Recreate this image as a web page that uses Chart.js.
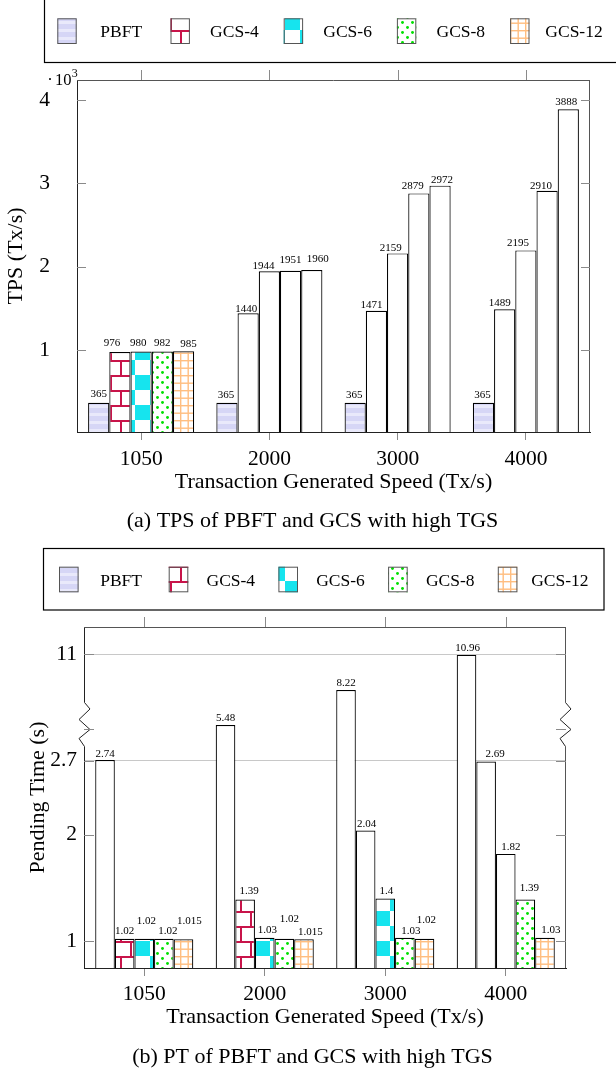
<!DOCTYPE html>
<html>
<head>
<meta charset="utf-8">
<script src="https://cdn.jsdelivr.net/npm/chart.js@4.4.1/dist/chart.umd.min.js"></script>
<style>
    html, body { margin: 0; padding: 0; background: #fff; }
    canvas { display: block; }
</style>
</head>
<body>
<canvas id="tpsChart" width="616" height="536"></canvas>
<canvas id="ptChart" width="616" height="536"></canvas>
<script>
// Data
const speeds = ['1050', '2000', '3000', '4000'];
const seriesNames = ['PBFT', 'GCS-4', 'GCS-6', 'GCS-8', 'GCS-12'];

const tpsPBFT  = [365, 365, 365, 365];
const tpsGCS4  = [976, 1440, 1471, 1489];
const tpsGCS6  = [980, 1944, 2159, 2195];
const tpsGCS8  = [982, 1951, 2879, 2910];
const tpsGCS12 = [985, 1960, 2972, 3888];
const tpsTicks = [1000, 2000, 3000, 4000];

const ptPBFT  = [2.74, 5.48, 8.22, 10.96];
const ptGCS4  = [1.02, 1.39, 2.04, 2.69];
const ptGCS6  = [1.02, 1.03, 1.4, 1.82];
const ptGCS8  = [1.02, 1.02, 1.03, 1.39];
const ptGCS12 = [1.015, 1.015, 1.02, 1.03];
const ptTicks = [1, 2, 2.7, 11];
const ptGridAt = [2.7, 11];

// label nudges (px), per series and group
const tpsLabelDx   = [[0, -1, -1, -1], [-8, -2, -5, -5], [-3, -6, -7, -8], [0, 0, -6, -6], [5, 6, 2, -2]];
const tpsLabelLift = [[2, 1, 1.5, 1.5], [2, -2, -1, 0], [2, -1.5, -1, 0.5], [2, 4.5, 1, -2], [1, 4, -0.5, 1]];
const ptLabelDx    = [[0, 0, 0, 1], [0, 4, 1, 9], [2, 2.5, 1, 5], [4, 5, 6, 4], [6, 6.5, 2, 6]];
const ptLabelLift  = [[0, 0, 0, 0], [1, 2, 0.5, 1.5], [11, 1, 1, 0], [1, 13.5, 0, 5], [12, 1, 12, 1.5]];

const serif = "'Liberation Serif', 'Times New Roman', serif";
Chart.defaults.font.family = serif;
Chart.defaults.color = '#000';

// Fill patterns
function makePattern(w, h, draw) {
    const c = document.createElement('canvas');
    c.width = w; c.height = h;
    const g = c.getContext('2d');
    g.fillStyle = '#fff';
    g.fillRect(0, 0, w, h);
    draw(g, w, h);
    return g.createPattern(c, 'repeat');
}

const fills = [
    makePattern(4, 8, (g, w) => {
        g.fillStyle = '#d6d6f6'; g.fillRect(0, 0, w, 8);
        g.fillStyle = '#e9e9fb'; g.fillRect(0, 5, w, 3);
    }),
    makePattern(20, 30, (g) => {
        g.fillStyle = '#c8144a';
        g.fillRect(0, 0, 20, 2); g.fillRect(0, 15, 20, 2);
        g.fillRect(0, 0, 2, 15); g.fillRect(10, 15, 2, 15);
    }),
    makePattern(30, 30, (g) => {
        g.fillStyle = '#16e4ee';
        g.fillRect(0, 0, 15, 15); g.fillRect(15, 15, 15, 15);
    }),
    makePattern(10, 10, (g) => {
        g.fillStyle = '#00e000';
        [[2.5, 2.5], [7.5, 7.5]].forEach(([x, y]) => { g.beginPath(); g.arc(x, y, 1.45, 0, Math.PI * 2); g.fill(); });
    }),
    makePattern(15, 15, (g) => {
        g.fillStyle = '#ffbe80';
        g.fillRect(0, 0, 1.4, 15); g.fillRect(7.5, 0, 1.4, 15);
        g.fillRect(0, 0, 15, 1.4); g.fillRect(0, 7.5, 15, 1.4);
    }),
];

function datasets(series, whiteAbove, base) {
    return series.map((data, i) => ({
        label: seriesNames[i],
        data: data,
        base: base,
        backgroundColor: c => c.raw > whiteAbove ? '#ffffff' : fills[i],
        borderColor: '#000',
        borderWidth: 1.2,
    }));
}

// Drawing helpers
function text(ctx, str, x, y, size, align, rot) {
    ctx.save();
    ctx.font = size + 'px ' + serif;
    ctx.fillStyle = '#000';
    ctx.textAlign = align || 'center';
    ctx.textBaseline = 'alphabetic';
    ctx.translate(x, y);
    if (rot) ctx.rotate(rot);
    ctx.fillText(str, 0, 0);
    ctx.restore();
}

function line(ctx, x1, y1, x2, y2, color, width) {
    ctx.save();
    ctx.strokeStyle = color; ctx.lineWidth = width || 1;
    ctx.beginPath(); ctx.moveTo(x1, y1); ctx.lineTo(x2, y2); ctx.stroke();
    ctx.restore();
}

function drawValueLabels(chart, dx, lift) {
    const ctx = chart.ctx;
    ctx.save();
    ctx.font = '11px ' + serif;
    ctx.fillStyle = '#000';
    ctx.textAlign = 'center';
    ctx.textBaseline = 'alphabetic';
    chart.data.datasets.forEach((ds, i) => {
        chart.getDatasetMeta(i).data.forEach((bar, j) => {
            ctx.fillText(String(ds.data[j]), bar.x + dx[i][j], bar.y - 3.5 - lift[i][j]);
        });
    });
    ctx.restore();
}

function drawFrame(chart, tickLen) {
    const { ctx, chartArea: a, scales: { x, y } } = chart;
    line(ctx, a.left, a.top + 0.5, a.right, a.top + 0.5, '#555');
    line(ctx, a.right - 0.5, a.top, a.right - 0.5, a.bottom, '#555');
    speeds.forEach((s, i) => {
        const px = Math.round(x.getPixelForValue(i)) + 0.5;
        line(ctx, px, a.top - 10, px, a.top, '#8a8a8a');
    });
    y.ticks.forEach(t => {
        const py = Math.round(y.getPixelForValue(t.value)) + 0.5;
        line(ctx, a.left, py, a.left + tickLen, py, '#8a8a8a');
        line(ctx, a.right - tickLen, py, a.right, py, '#8a8a8a');
    });
}

function drawLegend(ctx, L) {
    ctx.save();
    ctx.strokeStyle = '#000'; ctx.lineWidth = 1.2;
    ctx.strokeRect(L.left, L.top, L.right - L.left, L.bottom - L.top);
    ctx.font = '17.5px ' + serif;
    ctx.textAlign = 'center';
    ctx.textBaseline = 'alphabetic';
    seriesNames.forEach((name, i) => {
        const sx = L.x0 + i * L.step;
        ctx.fillStyle = fills[i];
        ctx.fillRect(sx, L.swTop, L.swW, L.swH);
        ctx.strokeStyle = '#555'; ctx.lineWidth = 1;
        ctx.strokeRect(sx + 0.5, L.swTop + 0.5, L.swW - 1, L.swH - 1);
        ctx.fillStyle = '#000';
        ctx.fillText(name, sx + L.swW + L.textOff, L.baseline);
    });
    ctx.restore();
}

// Broken y axis for the pending time chart: 2.7..11 squeezed into one unit
const breakLow = 2.7, breakHigh = 11;
const squash = v => v <= breakLow ? v : breakLow + (v - breakLow) / (breakHigh - breakLow);
const unsquash = v => v <= breakLow ? v : breakLow + (v - breakLow) * (breakHigh - breakLow);

class BrokenScale extends Chart.LinearScale {
    getPixelForValue(value) { return super.getPixelForValue(squash(value)); }
    getValueForPixel(pixel) { return unsquash(super.getValueForPixel(pixel)); }
}
BrokenScale.id = 'broken';
Chart.register(BrokenScale);

// TPS chart
const tpsMin = 15;
new Chart(document.getElementById('tpsChart'), {
    type: 'bar',
    data: { labels: speeds, datasets: datasets([tpsPBFT, tpsGCS4, tpsGCS6, tpsGCS8, tpsGCS12], 1000, tpsMin) },
    options: {
        responsive: false,
        animation: false,
        layout: { padding: { top: 80, right: 26, bottom: 0, left: 0 } },
        datasets: { bar: { categoryPercentage: 0.827, barPercentage: 1 } },
        plugins: { legend: { display: false }, tooltip: { enabled: false } },
        scales: {
            x: {
                offset: true,
                afterFit: s => { s.height = 104; },
                grid: { offset: false, drawOnChartArea: false, tickLength: 8, color: '#8a8a8a' },
                border: { color: '#222' },
                ticks: { padding: 6, font: { size: 21.5 } },
            },
            y: {
                min: tpsMin, max: 4240,
                afterBuildTicks: s => { s.ticks = tpsTicks.map(v => ({ value: v })); },
                afterFit: s => { s.width = 77; },
                grid: { display: false, drawTicks: false },
                border: { display: true, color: '#222' },
                ticks: { padding: 27, font: { size: 21.5 }, callback: v => v / 1000 },
            },
        },
    },
    plugins: [{
        id: 'tpsDecor',
        afterDatasetsDraw: chart => drawValueLabels(chart, tpsLabelDx, tpsLabelLift),
        afterDraw: chart => {
            const ctx = chart.ctx, a = chart.chartArea;
            drawFrame(chart, 9);
            drawLegend(ctx, { left: 44.5, top: -1, right: 622, bottom: 62.5, x0: 57.3, step: 113.2,
                swTop: 18.3, swW: 19.4, swH: 25.7, textOff: 44.5, baseline: 37.3 });
            text(ctx, '·', 50, 85, 16.5, 'center');
            text(ctx, '10', 71.5, 85, 16.5, 'right');
            text(ctx, '3', 71.8, 76.7, 12, 'left');
            text(ctx, 'TPS (Tx/s)', 22, (a.top + a.bottom) / 2, 22, 'center', -Math.PI / 2);
            text(ctx, 'Transaction Generated Speed (Tx/s)', (a.left + a.right) / 2, 488.3, 22);
            text(ctx, '(a) TPS of PBFT and GCS with high TGS', 312.5, 526.7, 22);
        },
    }],
});

// Pending time chart
const ptMin = 0.745;
new Chart(document.getElementById('ptChart'), {
    type: 'bar',
    data: { labels: speeds, datasets: datasets([ptPBFT, ptGCS4, ptGCS6, ptGCS8, ptGCS12], 1.5, ptMin) },
    options: {
        responsive: false,
        animation: false,
        layout: { padding: { top: 91, right: 50, bottom: 0, left: 0 } },
        datasets: { bar: { categoryPercentage: 0.814, barPercentage: 1 } },
        plugins: { legend: { display: false }, tooltip: { enabled: false } },
        scales: {
            x: {
                offset: true,
                afterFit: s => { s.height = 104; },
                grid: { offset: false, drawOnChartArea: false, tickLength: 8, color: '#8a8a8a' },
                border: { color: '#222' },
                ticks: { padding: 5, font: { size: 21.5 } },
            },
            y: {
                type: 'broken',
                min: ptMin, max: 3.958,
                afterBuildTicks: s => { s.ticks = ptTicks.map(v => ({ value: v })); },
                afterFit: s => { s.width = 84; },
                grid: {
                    drawTicks: false,
                    color: c => c.tick && ptGridAt.includes(c.tick.value) ? '#c8c8c8' : 'rgba(0,0,0,0)',
                },
                border: { display: true, color: '#222' },
                ticks: { padding: 7, font: { size: 21.5 }, callback: v => String(v) },
            },
        },
    },
    plugins: [{
        id: 'ptDecor',
        afterDatasetsDraw: chart => drawValueLabels(chart, ptLabelDx, ptLabelLift),
        afterDraw: chart => {
            const ctx = chart.ctx, a = chart.chartArea, y = chart.scales.y;
            drawFrame(chart, 10);
            // axis break zigzags
            const yb = Math.round(y.getPixelForValue(unsquash(3))) + 0.5;
            const zig = [[-27, 0], [-20.5, 5.5], [-10, -5.5], [0, 5.5], [9, -5.5], [17, 0]];
            [a.left + 0.5, a.right - 0.5].forEach(ax => {
                ctx.save();
                ctx.fillStyle = '#fff';
                ctx.fillRect(ax - 7, yb - 27, 14, 44);
                ctx.strokeStyle = '#222'; ctx.lineWidth = 1;
                ctx.beginPath();
                zig.forEach(([dy, dx], k) => k ? ctx.lineTo(ax + dx, yb + dy) : ctx.moveTo(ax + dx, yb + dy));
                ctx.stroke();
                ctx.restore();
            });
            line(ctx, a.left, yb, a.left + 10, yb, '#8a8a8a');
            line(ctx, a.right - 10, yb, a.right, yb, '#8a8a8a');
            drawLegend(ctx, { left: 43.5, top: 12.5, right: 604, bottom: 74, x0: 59, step: 109.7,
                swTop: 30.7, swW: 19.6, swH: 25.6, textOff: 42.5, baseline: 49.7 });
            text(ctx, 'Pending Time (s)', 44, (a.top + a.bottom) / 2, 22, 'center', -Math.PI / 2);
            text(ctx, 'Transaction Generated Speed (Tx/s)', (a.left + a.right) / 2, 487.3, 22);
            text(ctx, '(b) PT of PBFT and GCS with high TGS', 312.5, 527.3, 22);
        },
    }],
});
</script>
</body>
</html>
